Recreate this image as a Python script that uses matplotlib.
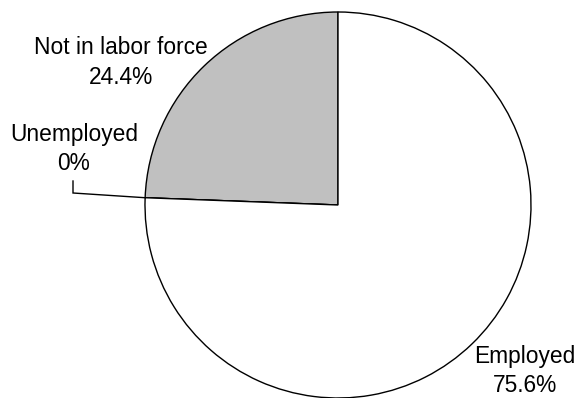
import numpy as np
import matplotlib.pyplot as plt

categories = ["Not in labor force", "Unemployed", "Employed"]
shares = [24.4, 0.0, 75.6]
pct_labels = ["24.4%", "0%", "75.6%"]
colors = ["#c0c0c0", "#ffffff", "#ffffff"]

W, H = 581, 398
fig = plt.figure(figsize=(W / 100, H / 100), dpi=100)
ax = fig.add_axes([0, 0, 1, 1])

cx, cy, r = 338, H - 205, 193
wedges, _ = ax.pie(shares, colors=colors, startangle=90, counterclock=True,
                   center=(cx, cy), radius=r, frame=True,
                   wedgeprops=dict(edgecolor="black", linewidth=1.0))
ax.set_xlim(0, W)
ax.set_ylim(0, H)
ax.set_aspect("equal")
ax.axis("off")

font = dict(family="Liberation Sans", fontsize=16.4, color="black",
            ha="center", va="center")

# label positions (name line, percent line) in pixel coordinates from top
label_pos = {
    "Not in labor force": (121, 48, 77),
    "Unemployed": (74, 134, 163),
    "Employed": (525, 357, 385),
}
for name, pct in zip(categories, pct_labels):
    x, y1, y2 = label_pos[name]
    ax.text(x, H - y1, name, **font)
    ax.text(x, H - y2, pct, **font)

# leader line for the zero-size slice
w = wedges[1]
ang = np.deg2rad(w.theta1)
ex, ey = cx + r * np.cos(ang), cy + r * np.sin(ang)
ax.plot([73, 73, ex], [H - 181, H - 193, ey], color="black", lw=1.0,
        solid_joinstyle="miter")

fig.savefig("out.png", dpi=100, facecolor="white")
